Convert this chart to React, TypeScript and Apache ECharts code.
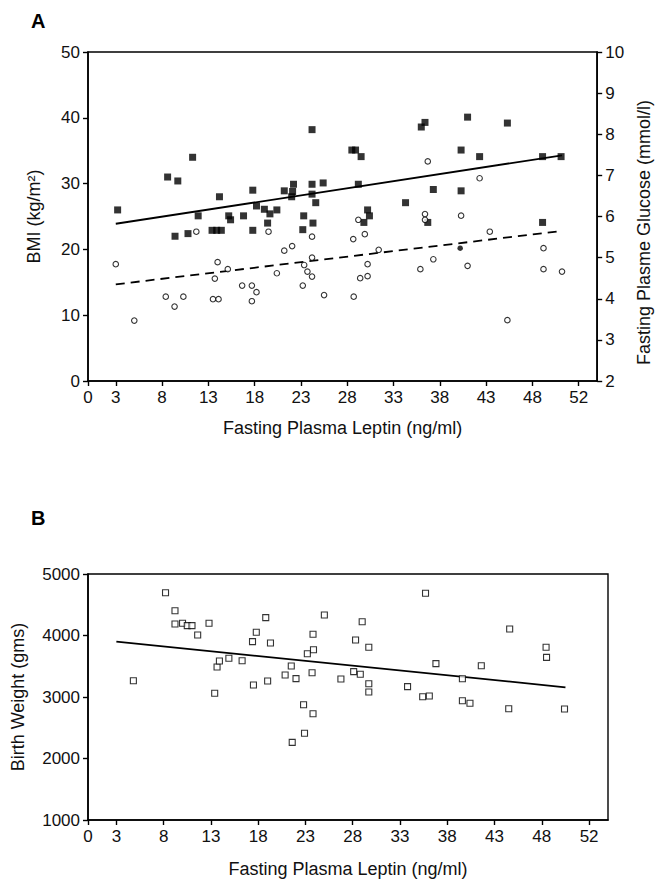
import React, { useEffect, useRef } from "react";
import * as echarts from "echarts";

// ---- Axis ticks (shared x axis of both panels) ----
const xTickValues = [0, 3, 8, 13, 18, 23, 28, 33, 38, 43, 48, 53];
const xTickLabels = ["0", "3", "8", "13", "18", "23", "28", "33", "38", "43", "48", "52"];

// ---- Panel A: BMI (filled squares) ----
const bmiLeptin = [3.2, 8.6, 9.4, 9.7, 10.8, 11.3, 11.9, 13.4, 13.9, 14.4, 14.2, 15.2, 15.4, 16.8, 17.8, 17.8, 18.2, 19.05, 19.4, 19.65, 20.4, 21.2, 22.0, 22.1, 22.2, 23.2, 23.3, 24.2, 24.2, 24.2, 24.3, 24.6, 25.4, 28.5, 28.9, 29.2, 29.5, 29.8, 30.2, 30.4, 34.3, 36.0, 36.4, 36.7, 37.3, 40.3, 40.3, 41.0, 42.3, 45.3, 49.1, 49.1, 51.1];
const bmiValues = [26.0, 31.0, 22.0, 30.4, 22.4, 34.0, 25.1, 22.9, 22.9, 22.9, 28.0, 25.1, 24.5, 25.1, 29.0, 22.9, 26.6, 26.1, 24.0, 25.4, 26.0, 28.9, 28.0, 28.8, 29.9, 23.0, 25.1, 28.4, 29.9, 38.2, 24.0, 27.1, 30.1, 35.1, 35.1, 29.9, 34.1, 24.1, 26.0, 25.1, 27.1, 38.6, 39.3, 24.1, 29.1, 35.1, 28.9, 40.1, 34.1, 39.2, 34.1, 24.1, 34.1];
const bmiFitLeptin = [3, 51.2];
const bmiFitValues = [23.9, 34.3];

// ---- Panel A: Fasting glucose (open circles) ----
const gluLeptin = [3.0, 5.0, 8.4, 9.35, 10.3, 11.7, 13.5, 13.7, 14.0, 14.1, 15.1, 16.65, 17.7, 17.7, 18.2, 19.5, 20.4, 21.2, 22.05, 23.2, 23.35, 23.7, 24.2, 24.2, 24.2, 25.5, 28.65, 28.7, 29.2, 29.4, 29.9, 30.2, 30.2, 31.4, 35.9, 36.4, 36.4, 36.7, 37.3, 40.3, 41.0, 42.3, 43.4, 45.3, 49.2, 49.2, 51.2];
const gluValues = [4.84, 3.47, 4.05, 3.81, 4.05, 5.63, 3.99, 4.49, 4.89, 3.99, 4.72, 4.32, 4.32, 3.94, 4.16, 5.63, 4.62, 5.17, 5.28, 4.32, 4.82, 4.66, 4.54, 5.0, 5.51, 4.09, 5.45, 4.05, 5.92, 4.5, 5.57, 4.84, 4.55, 5.19, 4.72, 6.06, 5.92, 7.34, 4.96, 6.02, 4.8, 6.93, 5.63, 3.48, 5.23, 4.72, 4.66];
const gluFilledLeptin = [40.2];
const gluFilledValues = [5.23];
const gluFitLeptin = [3, 51.2];
const gluFitValues = [4.35, 5.65];

// ---- Panel B: Birth weight (open squares) ----
const bwLeptin = [4.8, 8.2, 9.2, 9.2, 10.0, 10.5, 11.0, 11.6, 12.8, 13.4, 13.65, 13.9, 14.9, 16.3, 17.4, 17.5, 17.8, 18.8, 19.0, 19.3, 20.85, 21.5, 21.6, 22.0, 22.8, 22.9, 23.2, 23.7, 23.8, 23.8, 23.85, 25.0, 26.75, 28.1, 28.3, 28.8, 29.0, 29.7, 29.7, 29.7, 33.8, 35.4, 35.7, 36.1, 36.8, 39.6, 39.6, 40.4, 41.6, 44.5, 44.6, 48.45, 48.5, 50.4];
const bwValues = [3265, 4696, 4403, 4187, 4198, 4160, 4160, 4008, 4198, 3060, 3488, 3585, 3629, 3590, 3900, 3195, 4052, 4290, 3260, 3878, 3358, 3504, 2263, 3298, 2875, 2410, 3704, 3395, 2728, 4020, 3769, 4333, 3293, 3412, 3927, 3369, 4224, 3808, 3216, 3081, 3168, 3005, 4686, 3016, 3542, 3297, 2940, 2898, 3509, 2810, 4106, 3808, 3645, 2805];
const bwFitLeptin = [3, 50.5];
const bwFitValues = [3900, 3158];

const zip = (xs: number[], ys: number[]) => xs.map((x, i) => [x, ys[i]]);

const FONT = "Liberation Sans, Arial, sans-serif";
const AX = "#000";
const TICK_FS = 17;
const NAME_FS = 18;

function xAxisDef(gridIndex: number, nameGap: number) {
  return {
    type: "value",
    gridIndex,
    min: 0,
    max: 55,
    name: "Fasting Plasma Leptin (ng/ml)",
    nameLocation: "middle",
    nameGap,
    nameTextStyle: { fontFamily: FONT, fontSize: NAME_FS, color: "#111" },
    axisLine: { show: true, onZero: false, lineStyle: { color: AX, width: 1.6 } },
    axisTick: { show: true, customValues: xTickValues, length: 5, lineStyle: { color: AX, width: 1.4 } },
    axisLabel: {
      customValues: xTickValues,
      margin: 8,
      fontFamily: FONT,
      fontSize: TICK_FS,
      color: "#111",
      formatter: (v: number) => {
        const i = xTickValues.indexOf(v);
        return i >= 0 ? xTickLabels[i] : "";
      },
    },
    splitLine: { show: false },
  };
}

function yAxisDef(gridIndex: number, min: number, max: number, interval: number, position: string, name: string, nameGap: number, padding?: number[]) {
  return {
    type: "value",
    gridIndex,
    min,
    max,
    interval,
    position,
    name,
    nameLocation: "middle",
    nameGap,
    nameRotate: 90,
    nameTextStyle: { fontFamily: FONT, fontSize: NAME_FS, color: "#111", padding: padding || 0 },
    axisLine: { show: true, lineStyle: { color: AX, width: 1.6 } },
    axisTick: { show: true, length: 5, lineStyle: { color: AX, width: 1.4 } },
    axisLabel: { margin: 8, fontFamily: FONT, fontSize: TICK_FS, color: "#111", formatter: (v: number) => String(v) },
    splitLine: { show: false },
  };
}

export default function App() {
  const ref = useRef<HTMLDivElement>(null);
  useEffect(() => {
    if (!ref.current) return;
    const chart = echarts.init(ref.current, undefined, { renderer: "svg" });
    const option = {
      animation: false,
      backgroundColor: "#fff",
      textStyle: { fontFamily: FONT },
      title: [
        { text: "A", left: 26, top: 6, textStyle: { fontFamily: FONT, fontSize: 20, fontWeight: "bold", color: "#000" } },
        { text: "B", left: 26, top: 503, textStyle: { fontFamily: FONT, fontSize: 20, fontWeight: "bold", color: "#000" } },
      ],
      grid: [
        { left: 88, top: 52, width: 520, height: 329, show: true, borderColor: AX, borderWidth: 1.4, backgroundColor: "transparent" },
        { left: 88, top: 574, width: 520, height: 246, show: true, borderColor: AX, borderWidth: 1.4, backgroundColor: "transparent" },
      ],
      xAxis: [xAxisDef(0, 38), xAxisDef(1, 40)],
      yAxis: [
        yAxisDef(0, 0, 50, 10, "left", "BMI (kg/m²)", 45),
        yAxisDef(0, 2, 10, 1, "right", "Fasting Plasme Glucose (mmol/l)", 33, [0, 32, 0, 0]),
        yAxisDef(1, 1000, 5000, 1000, "left", "Birth Weight (gms)", 61),
      ],
      series: [
        {
          name: "BMI fit",
          type: "line",
          xAxisIndex: 0,
          yAxisIndex: 0,
          data: zip(bmiFitLeptin, bmiFitValues),
          symbol: "none",
          lineStyle: { color: "#000", width: 1.8 },
          z: 2,
        },
        {
          name: "Glucose fit",
          type: "line",
          xAxisIndex: 0,
          yAxisIndex: 1,
          data: zip(gluFitLeptin, gluFitValues),
          symbol: "none",
          lineStyle: { color: "#000", width: 1.8, type: [9, 6] },
          z: 2,
        },
        {
          name: "BMI",
          type: "scatter",
          xAxisIndex: 0,
          yAxisIndex: 0,
          data: zip(bmiLeptin, bmiValues),
          symbol: "rect",
          symbolSize: 7,
          itemStyle: { color: "#000" },
          z: 3,
        },
        {
          name: "Glucose",
          type: "scatter",
          xAxisIndex: 0,
          yAxisIndex: 1,
          data: zip(gluLeptin, gluValues),
          symbol: "circle",
          symbolSize: 5.5,
          itemStyle: { color: "#fff", borderColor: "#000", borderWidth: 1.1 },
          z: 4,
        },
        {
          name: "Glucose (overlap)",
          type: "scatter",
          xAxisIndex: 0,
          yAxisIndex: 1,
          data: zip(gluFilledLeptin, gluFilledValues),
          symbol: "circle",
          symbolSize: 5.5,
          itemStyle: { color: "#000" },
          z: 4,
        },
        {
          name: "Birth weight fit",
          type: "line",
          xAxisIndex: 1,
          yAxisIndex: 2,
          data: zip(bwFitLeptin, bwFitValues),
          symbol: "none",
          lineStyle: { color: "#000", width: 1.8 },
          z: 2,
        },
        {
          name: "Birth weight",
          type: "scatter",
          xAxisIndex: 1,
          yAxisIndex: 2,
          data: zip(bwLeptin, bwValues),
          symbol: "rect",
          symbolSize: 6,
          itemStyle: { color: "#fff", borderColor: "#000", borderWidth: 1.1 },
          z: 3,
        },
      ],
    };
    chart.setOption(option as any);
    return () => chart.dispose();
  }, []);
  return (
    <div
      ref={ref}
      style={{ position: "fixed", left: 0, top: 0, width: 661, height: 881, background: "#fff" }}
    />
  );
}
